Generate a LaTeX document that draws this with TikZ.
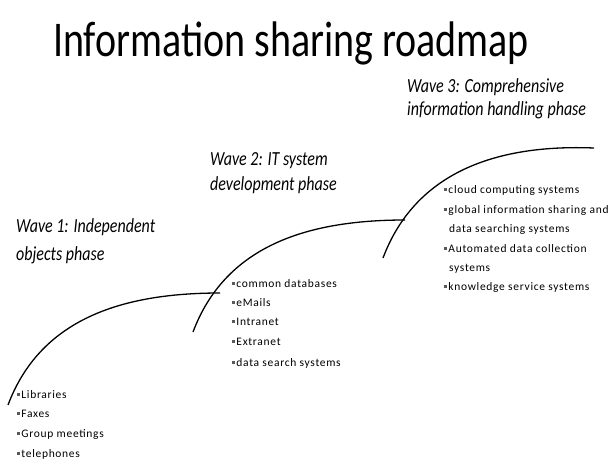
\documentclass[tikz,border=0pt]{standalone}
\usepackage{fontspec}
\setmainfont{Carlito}
\newcommand\sqbullet{\textcolor{black!65}{\rule[0.2em]{0.25em}{0.25em}}\hspace{0.12em}}
\begin{document}
\begin{tikzpicture}[x=1pt,y=-1pt,
  wave/.style={line width=1.3pt,black},
  head/.style={anchor=mid west,inner sep=0pt,xscale=0.8,
    font=\fontsize{20}{22}\selectfont\itshape},
  item/.style={anchor=mid west,inner sep=0pt,
    font=\fontsize{11.5}{13}\selectfont\addfontfeature{LetterSpace=6}}]
\useasboundingbox (0,0) rectangle (612,463);

% title
\node[anchor=base,inner sep=0pt,xscale=0.8,font=\fontsize{50}{56}\selectfont] (title) at (291,56) {Information sharing roadmap};

% three rising waves
\coordinate (w1s) at (8,405);   \coordinate (w1e) at (220,293);
\coordinate (w2s) at (193,332); \coordinate (w2e) at (405,220);
\coordinate (w3s) at (383,258); \coordinate (w3e) at (594,148);
\draw[wave] (w1s) .. controls (40,320) and (120,293) .. (w1e);
\draw[wave] (w2s) .. controls (225,247) and (305,220) .. (w2e);
\draw[wave] (w3s) .. controls (415,173) and (495,144) .. (w3e);

% wave headings
\node[head] (h1a) at (16,230) {Wave 1: Independent};
\node[head] (h1b) at (16,258) {objects phase};
\node[head] (h2a) at (210,163) {Wave 2: IT system};
\node[head] (h2b) at (210,188) {development phase};
\node[head] (h3a) at (407,90) {Wave 3: Comprehensive};
\node[head] (h3b) at (407,113) {information handling phase};

% wave 1 items
\node[item] (a1) at (17,396) {\sqbullet Libraries};
\node[item] (a2) at (17,415) {\sqbullet Faxes};
\node[item] (a3) at (17,435) {\sqbullet Group meetings};
\node[item] (a4) at (17,455) {\sqbullet telephones};

% wave 2 items
\node[item] (b1) at (232,285) {\sqbullet common databases};
\node[item] (b2) at (232,304) {\sqbullet eMails};
\node[item] (b3) at (232,323) {\sqbullet Intranet};
\node[item] (b4) at (232,343) {\sqbullet Extranet};
\node[item] (b5) at (232,364) {\sqbullet data search systems};

% wave 3 items
\node[item] (c1) at (444,191) {\sqbullet cloud computing systems};
\node[item] (c2) at (444,211) {\sqbullet global information sharing and};
\node[item] (c3) at (449,230) {data searching systems};
\node[item] (c4) at (444,250) {\sqbullet Automated data collection};
\node[item] (c5) at (449,269) {systems};
\node[item] (c6) at (444,288) {\sqbullet knowledge service systems};
\end{tikzpicture}
\end{document}
